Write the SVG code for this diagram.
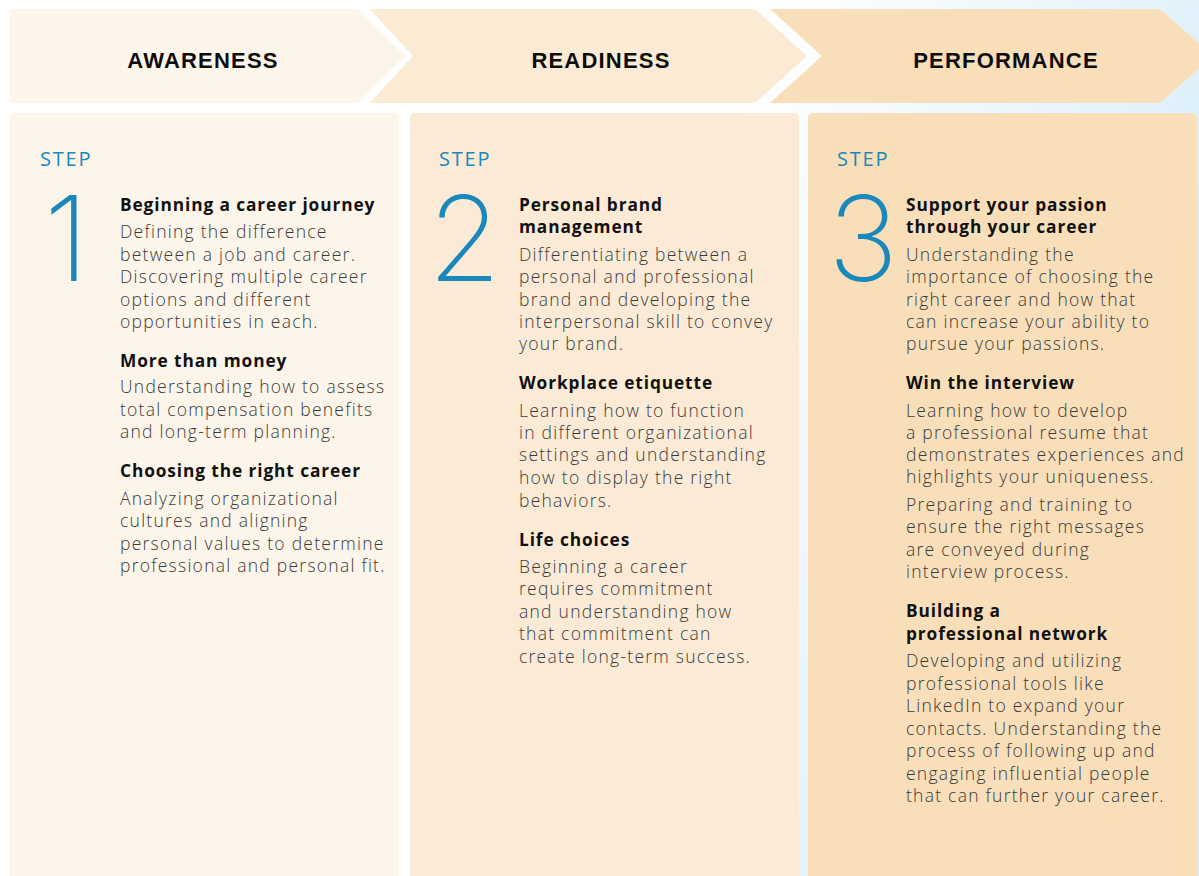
<svg xmlns="http://www.w3.org/2000/svg" width="1199" height="876" viewBox="0 0 1199 876">
<defs>
<linearGradient id="bg" x1="0" y1="0" x2="1" y2="0.3">
<stop offset="0" stop-color="#ffffff"/>
<stop offset="0.6" stop-color="#ffffff"/>
<stop offset="1" stop-color="#d9eefa"/>
</linearGradient>
<style>
.hdr{font-family:"Liberation Sans",Arial,sans-serif;font-weight:bold;font-size:22px;letter-spacing:1.2px;fill:#0d0d0d;text-anchor:middle}
.step{font-family:"Open Sans",sans-serif;font-weight:500;font-size:20px;letter-spacing:1.8px;fill:#1a88bb}
.num{font-family:Inter,"Noto Sans",sans-serif;font-weight:200;font-size:118px;fill:#1a88bb}
.h{font-family:"Open Sans",sans-serif;font-weight:bold;font-size:17.3px;letter-spacing:0.9px;fill:#111}
.b{font-family:"Open Sans",sans-serif;font-weight:300;font-size:17.5px;letter-spacing:1.25px;fill:#3a3a3a}
</style>
</defs>
<rect width="1199" height="876" fill="url(#bg)"/>
<g id="chevrons">
<polygon id="chev-awareness" points="10,9 358,9 405,56 358,103 10,103" fill="#fdf5e9"/>
<polygon id="chev-readiness" points="370,9 755,9 807,56 755,103 370,103 413,56" fill="#fbebd5"/>
<polygon id="chev-performance" points="770,9 1160,9 1213,56 1160,103 770,103 822,56" fill="#f8dfba"/>
<text class="hdr" x="203" y="68">AWARENESS</text>
<text class="hdr" x="601" y="68">READINESS</text>
<text class="hdr" x="1006" y="68">PERFORMANCE</text>
</g>
<g id="step1">
<rect x="10" y="113" width="389" height="770" rx="5" fill="#fdf5ea"/>
<text class="step" x="40" y="166">STEP</text>
<text class="num" x="44" y="281">1</text>
<text class="h" x="120" y="211">Beginning a career journey</text>
<text class="b" x="120" y="238">Defining the difference</text>
<text class="b" x="120" y="261">between a job and career.</text>
<text class="b" x="120" y="283">Discovering multiple career</text>
<text class="b" x="120" y="306">options and different</text>
<text class="b" x="120" y="328">opportunities in each.</text>
<text class="h" x="120" y="367">More than money</text>
<text class="b" x="120" y="393">Understanding how to assess</text>
<text class="b" x="120" y="416">total compensation benefits</text>
<text class="b" x="120" y="438">and long-term planning.</text>
<text class="h" x="120" y="477">Choosing the right career</text>
<text class="b" x="120" y="505">Analyzing organizational</text>
<text class="b" x="120" y="527">cultures and aligning</text>
<text class="b" x="120" y="550">personal values to determine</text>
<text class="b" x="120" y="572">professional and personal fit.</text>
</g>
<g id="step2">
<rect x="410" y="113" width="389" height="770" rx="5" fill="#fbebd6"/>
<text class="step" x="439" y="166">STEP</text>
<text class="num" x="428" y="281">2</text>
<text class="h" x="519" y="211">Personal brand</text>
<text class="h" x="519" y="233">management</text>
<text class="b" x="519" y="261">Differentiating between a</text>
<text class="b" x="519" y="283">personal and professional</text>
<text class="b" x="519" y="306">brand and developing the</text>
<text class="b" x="519" y="328">interpersonal skill to convey</text>
<text class="b" x="519" y="350">your brand.</text>
<text class="h" x="519" y="389">Workplace etiquette</text>
<text class="b" x="519" y="417">Learning how to function</text>
<text class="b" x="519" y="439">in different organizational</text>
<text class="b" x="519" y="461">settings and understanding</text>
<text class="b" x="519" y="484">how to display the right</text>
<text class="b" x="519" y="507">behaviors.</text>
<text class="h" x="519" y="546">Life choices</text>
<text class="b" x="519" y="573">Beginning a career</text>
<text class="b" x="519" y="595">requires commitment</text>
<text class="b" x="519" y="618">and understanding how</text>
<text class="b" x="519" y="640">that commitment can</text>
<text class="b" x="519" y="663">create long-term success.</text>
</g>
<g id="step3">
<rect x="808" y="113" width="389" height="770" rx="5" fill="#f8dfba"/>
<text class="step" x="837" y="166">STEP</text>
<text class="num" x="828" y="281">3</text>
<text class="h" x="906" y="211">Support your passion</text>
<text class="h" x="906" y="233">through your career</text>
<text class="b" x="906" y="261">Understanding the</text>
<text class="b" x="906" y="283">importance of choosing the</text>
<text class="b" x="906" y="306">right career and how that</text>
<text class="b" x="906" y="328">can increase your ability to</text>
<text class="b" x="906" y="350">pursue your passions.</text>
<text class="h" x="906" y="389">Win the interview</text>
<text class="b" x="906" y="417">Learning how to develop</text>
<text class="b" x="906" y="439">a professional resume that</text>
<text class="b" x="906" y="461">demonstrates experiences and</text>
<text class="b" x="906" y="483">highlights your uniqueness.</text>
<text class="b" x="906" y="511">Preparing and training to</text>
<text class="b" x="906" y="533">ensure the right messages</text>
<text class="b" x="906" y="556">are conveyed during</text>
<text class="b" x="906" y="578">interview process.</text>
<text class="h" x="906" y="617">Building a</text>
<text class="h" x="906" y="640">professional network</text>
<text class="b" x="906" y="667">Developing and utilizing</text>
<text class="b" x="906" y="690">professional tools like</text>
<text class="b" x="906" y="712">LinkedIn to expand your</text>
<text class="b" x="906" y="735">contacts. Understanding the</text>
<text class="b" x="906" y="757">process of following up and</text>
<text class="b" x="906" y="780">engaging influential people</text>
<text class="b" x="906" y="802">that can further your career.</text>
</g>
</svg>
